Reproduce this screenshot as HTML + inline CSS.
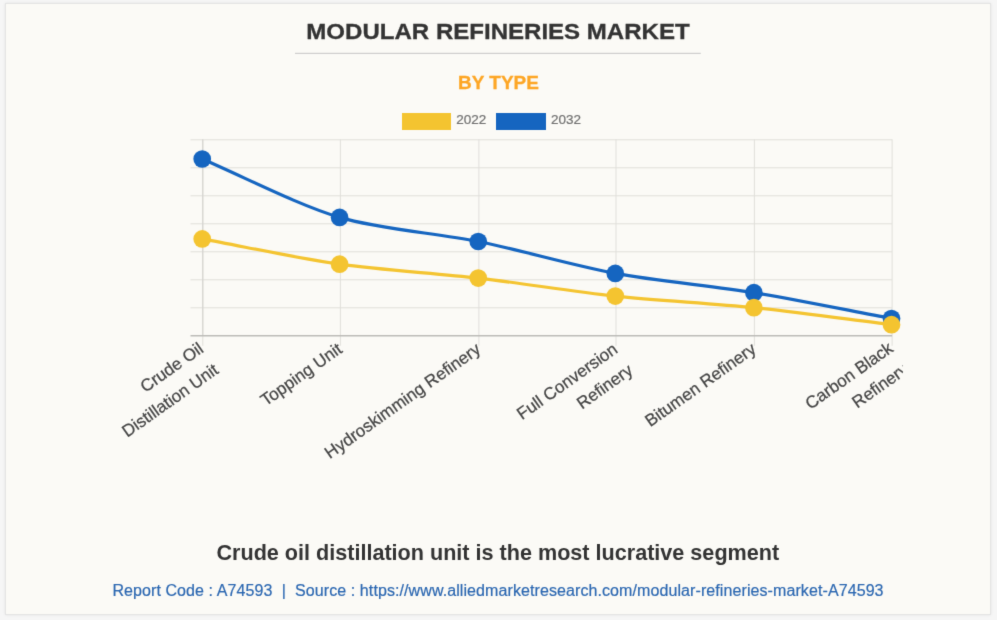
<!DOCTYPE html>
<html lang="en"><head><meta charset="utf-8"><title>Modular Refineries Market</title>
<style>
html,body{margin:0;padding:0;}
body{width:997px;height:620px;background:#f6f6f6;overflow:hidden;position:relative;font-family:"Liberation Sans",Arial,sans-serif;}
.soft{position:absolute;left:-6px;top:-6px;width:1009px;height:632px;background:#f6f6f6;filter:url(#soft);}
.page{position:absolute;left:6px;top:6px;width:997px;height:620px;}
.card{position:absolute;left:5px;top:3px;width:986px;height:612px;box-sizing:border-box;background:#fbfaf6;border:1px solid #e4e4e4;box-shadow:0 0 3px rgba(0,0,0,0.08);}
.title{position:absolute;left:294.9px;top:19px;width:406px;height:35px;box-sizing:border-box;text-align:center;font-weight:bold;font-size:22.6px;line-height:26px;letter-spacing:0;color:#333;-webkit-text-stroke:0.3px #333;transform:scaleX(1.064);transform-origin:50% 50%;white-space:nowrap;}
.sub{position:absolute;left:-0.4px;width:997px;top:72px;text-align:center;font-weight:bold;font-size:18.5px;line-height:22px;letter-spacing:0px;color:#fda625;-webkit-text-stroke:0.3px #fda625;transform:scaleX(1.025);transform-origin:498.2px 50%;}
.lg{position:absolute;top:112.5px;height:17px;}
.lt{position:absolute;top:110px;font-size:13.5px;line-height:20px;color:#707070;-webkit-text-stroke:0.2px #707070;}
.chart{position:absolute;left:0;top:0;width:903px;height:520px;overflow:hidden;}
.chart text{font-family:"Liberation Sans",Arial,sans-serif;font-size:17.1px;fill:#454545;stroke:#454545;stroke-width:0.25px;}
.cap{position:absolute;left:-0.7px;width:997px;top:540px;text-align:center;font-weight:bold;font-size:21.6px;line-height:26px;letter-spacing:0;color:#333;white-space:nowrap;}
.foot{position:absolute;left:-0.5px;width:997px;top:581px;text-align:center;font-size:16px;line-height:20px;letter-spacing:0.09px;color:#2b67b1;-webkit-text-stroke:0.2px #2b67b1;white-space:nowrap;}
.foot span{margin:0 4.6px;}
</style></head>
<body>
<svg width="0" height="0" style="position:absolute"><filter id="soft" x="0" y="0" width="100%" height="100%" color-interpolation-filters="sRGB"><feConvolveMatrix order="3" kernelMatrix="0.0114 0.0840 0.0114 0.0840 0.6181 0.0840 0.0114 0.0840 0.0114" edgeMode="duplicate" preserveAlpha="true"/></filter></svg>
<div class="soft"><div class="page">
<div class="card"></div>
<div class="title">MODULAR REFINERIES MARKET</div>
<div class="sub">BY TYPE</div>
<div class="lg" style="left:401.5px;width:49.5px;background:#f4c430"></div><div class="lt" style="left:456.3px">2022</div>
<div class="lg" style="left:496px;width:50px;background:#1565c0"></div><div class="lt" style="left:551px">2032</div>
<div class="chart"><svg width="903" height="520" viewBox="0 0 903 520">
<line x1="295" y1="53.35" x2="700.8" y2="53.35" stroke="#c6c6c6" stroke-width="1"/>
<line x1="190.5" y1="139.8" x2="892.1" y2="139.8" stroke="#e0dfdb" stroke-width="1"/>
<line x1="190.5" y1="167.8" x2="892.1" y2="167.8" stroke="#e0dfdb" stroke-width="1"/>
<line x1="190.5" y1="195.8" x2="892.1" y2="195.8" stroke="#e0dfdb" stroke-width="1"/>
<line x1="190.5" y1="223.8" x2="892.1" y2="223.8" stroke="#e0dfdb" stroke-width="1"/>
<line x1="190.5" y1="251.8" x2="892.1" y2="251.8" stroke="#e0dfdb" stroke-width="1"/>
<line x1="190.5" y1="279.8" x2="892.1" y2="279.8" stroke="#e0dfdb" stroke-width="1"/>
<line x1="190.5" y1="307.8" x2="892.1" y2="307.8" stroke="#e0dfdb" stroke-width="1"/>
<line x1="202.8" y1="139.3" x2="202.8" y2="345.8" stroke="#e0dfdb" stroke-width="1"/>
<line x1="202.8" y1="139.3" x2="202.8" y2="336" stroke="#d2d1cd" stroke-width="1"/>
<line x1="340.4" y1="139.3" x2="340.4" y2="345.8" stroke="#e0dfdb" stroke-width="1"/>
<line x1="478.9" y1="139.3" x2="478.9" y2="345.8" stroke="#e0dfdb" stroke-width="1"/>
<line x1="616.0" y1="139.3" x2="616.0" y2="345.8" stroke="#e0dfdb" stroke-width="1"/>
<line x1="754.4" y1="139.3" x2="754.4" y2="345.8" stroke="#e0dfdb" stroke-width="1"/>
<line x1="892.1" y1="139.3" x2="892.1" y2="345.8" stroke="#e0dfdb" stroke-width="1"/>
<line x1="190.5" y1="335.8" x2="892.1" y2="335.8" stroke="#bcbbb7" stroke-width="1.5"/>
<path d="M202.20 159.00 C243.42 176.52 296.97 204.66 339.60 217.40 C379.78 229.41 436.89 233.10 478.25 241.50 C519.60 249.90 573.84 265.70 615.30 273.40 C656.53 281.06 712.48 285.94 753.90 292.70 C795.34 299.47 850.22 310.76 891.50 318.50" fill="none" stroke="#1565c0" stroke-width="3.2" stroke-linecap="butt" stroke-linejoin="miter"/>
<circle cx="202.20" cy="159.0" r="8.85" fill="#1565c0"/>
<circle cx="339.60" cy="217.4" r="8.85" fill="#1565c0"/>
<circle cx="478.25" cy="241.5" r="8.85" fill="#1565c0"/>
<circle cx="615.30" cy="273.4" r="8.85" fill="#1565c0"/>
<circle cx="753.90" cy="292.7" r="8.85" fill="#1565c0"/>
<circle cx="891.50" cy="318.5" r="8.85" fill="#1565c0"/>
<path d="M202.20 238.90 C243.42 246.49 298.14 258.31 339.60 264.20 C380.95 270.07 436.73 273.30 478.25 278.10 C519.44 282.87 574.08 291.67 615.30 296.10 C656.78 300.55 712.40 303.40 753.90 307.70 C795.26 311.98 850.22 319.60 891.50 324.70" fill="none" stroke="#f4c430" stroke-width="3.2" stroke-linecap="butt" stroke-linejoin="miter"/>
<circle cx="202.20" cy="238.9" r="8.85" fill="#f4c430"/>
<circle cx="339.60" cy="264.2" r="8.85" fill="#f4c430"/>
<circle cx="478.25" cy="278.1" r="8.85" fill="#f4c430"/>
<circle cx="615.30" cy="296.1" r="8.85" fill="#f4c430"/>
<circle cx="753.90" cy="307.7" r="8.85" fill="#f4c430"/>
<circle cx="891.50" cy="324.7" r="8.85" fill="#f4c430"/>
<g transform="translate(202.00 347.6) rotate(-35.3)"><text x="0" y="-1.60" dy="0.35em" text-anchor="end">Crude Oil</text><text x="0" y="24.40" dy="0.35em" text-anchor="end">Distillation Unit</text></g>
<g transform="translate(340.40 347.6) rotate(-35.3)"><text x="0" y="-1.00" dy="0.35em" text-anchor="end">Topping Unit</text></g>
<g transform="translate(478.90 347.6) rotate(-35.3)"><text x="0" y="-1.00" dy="0.35em" text-anchor="end">Hydroskimming Refinery</text></g>
<g transform="translate(616.00 347.6) rotate(-35.3)"><text x="0" y="-1.00" dy="0.35em" text-anchor="end">Full Conversion</text><text x="0" y="25.00" dy="0.35em" text-anchor="end">Refinery</text></g>
<g transform="translate(754.40 347.6) rotate(-35.3)"><text x="0" y="-1.10" dy="0.35em" text-anchor="end">Bitumen Refinery</text></g>
<g transform="translate(892.10 347.6) rotate(-35.3)"><text x="0" y="-2.20" dy="0.35em" text-anchor="end">Carbon Black</text><text x="0" y="23.80" dy="0.35em" text-anchor="end">Refinery</text></g>
</svg></div>
<div class="cap">Crude oil distillation unit is the most lucrative segment</div>
<div class="foot">Report Code : A74593 <span>|</span> Source : https://www.alliedmarketresearch.com/modular-refineries-market-A74593</div>
</div></div>
</body></html>
